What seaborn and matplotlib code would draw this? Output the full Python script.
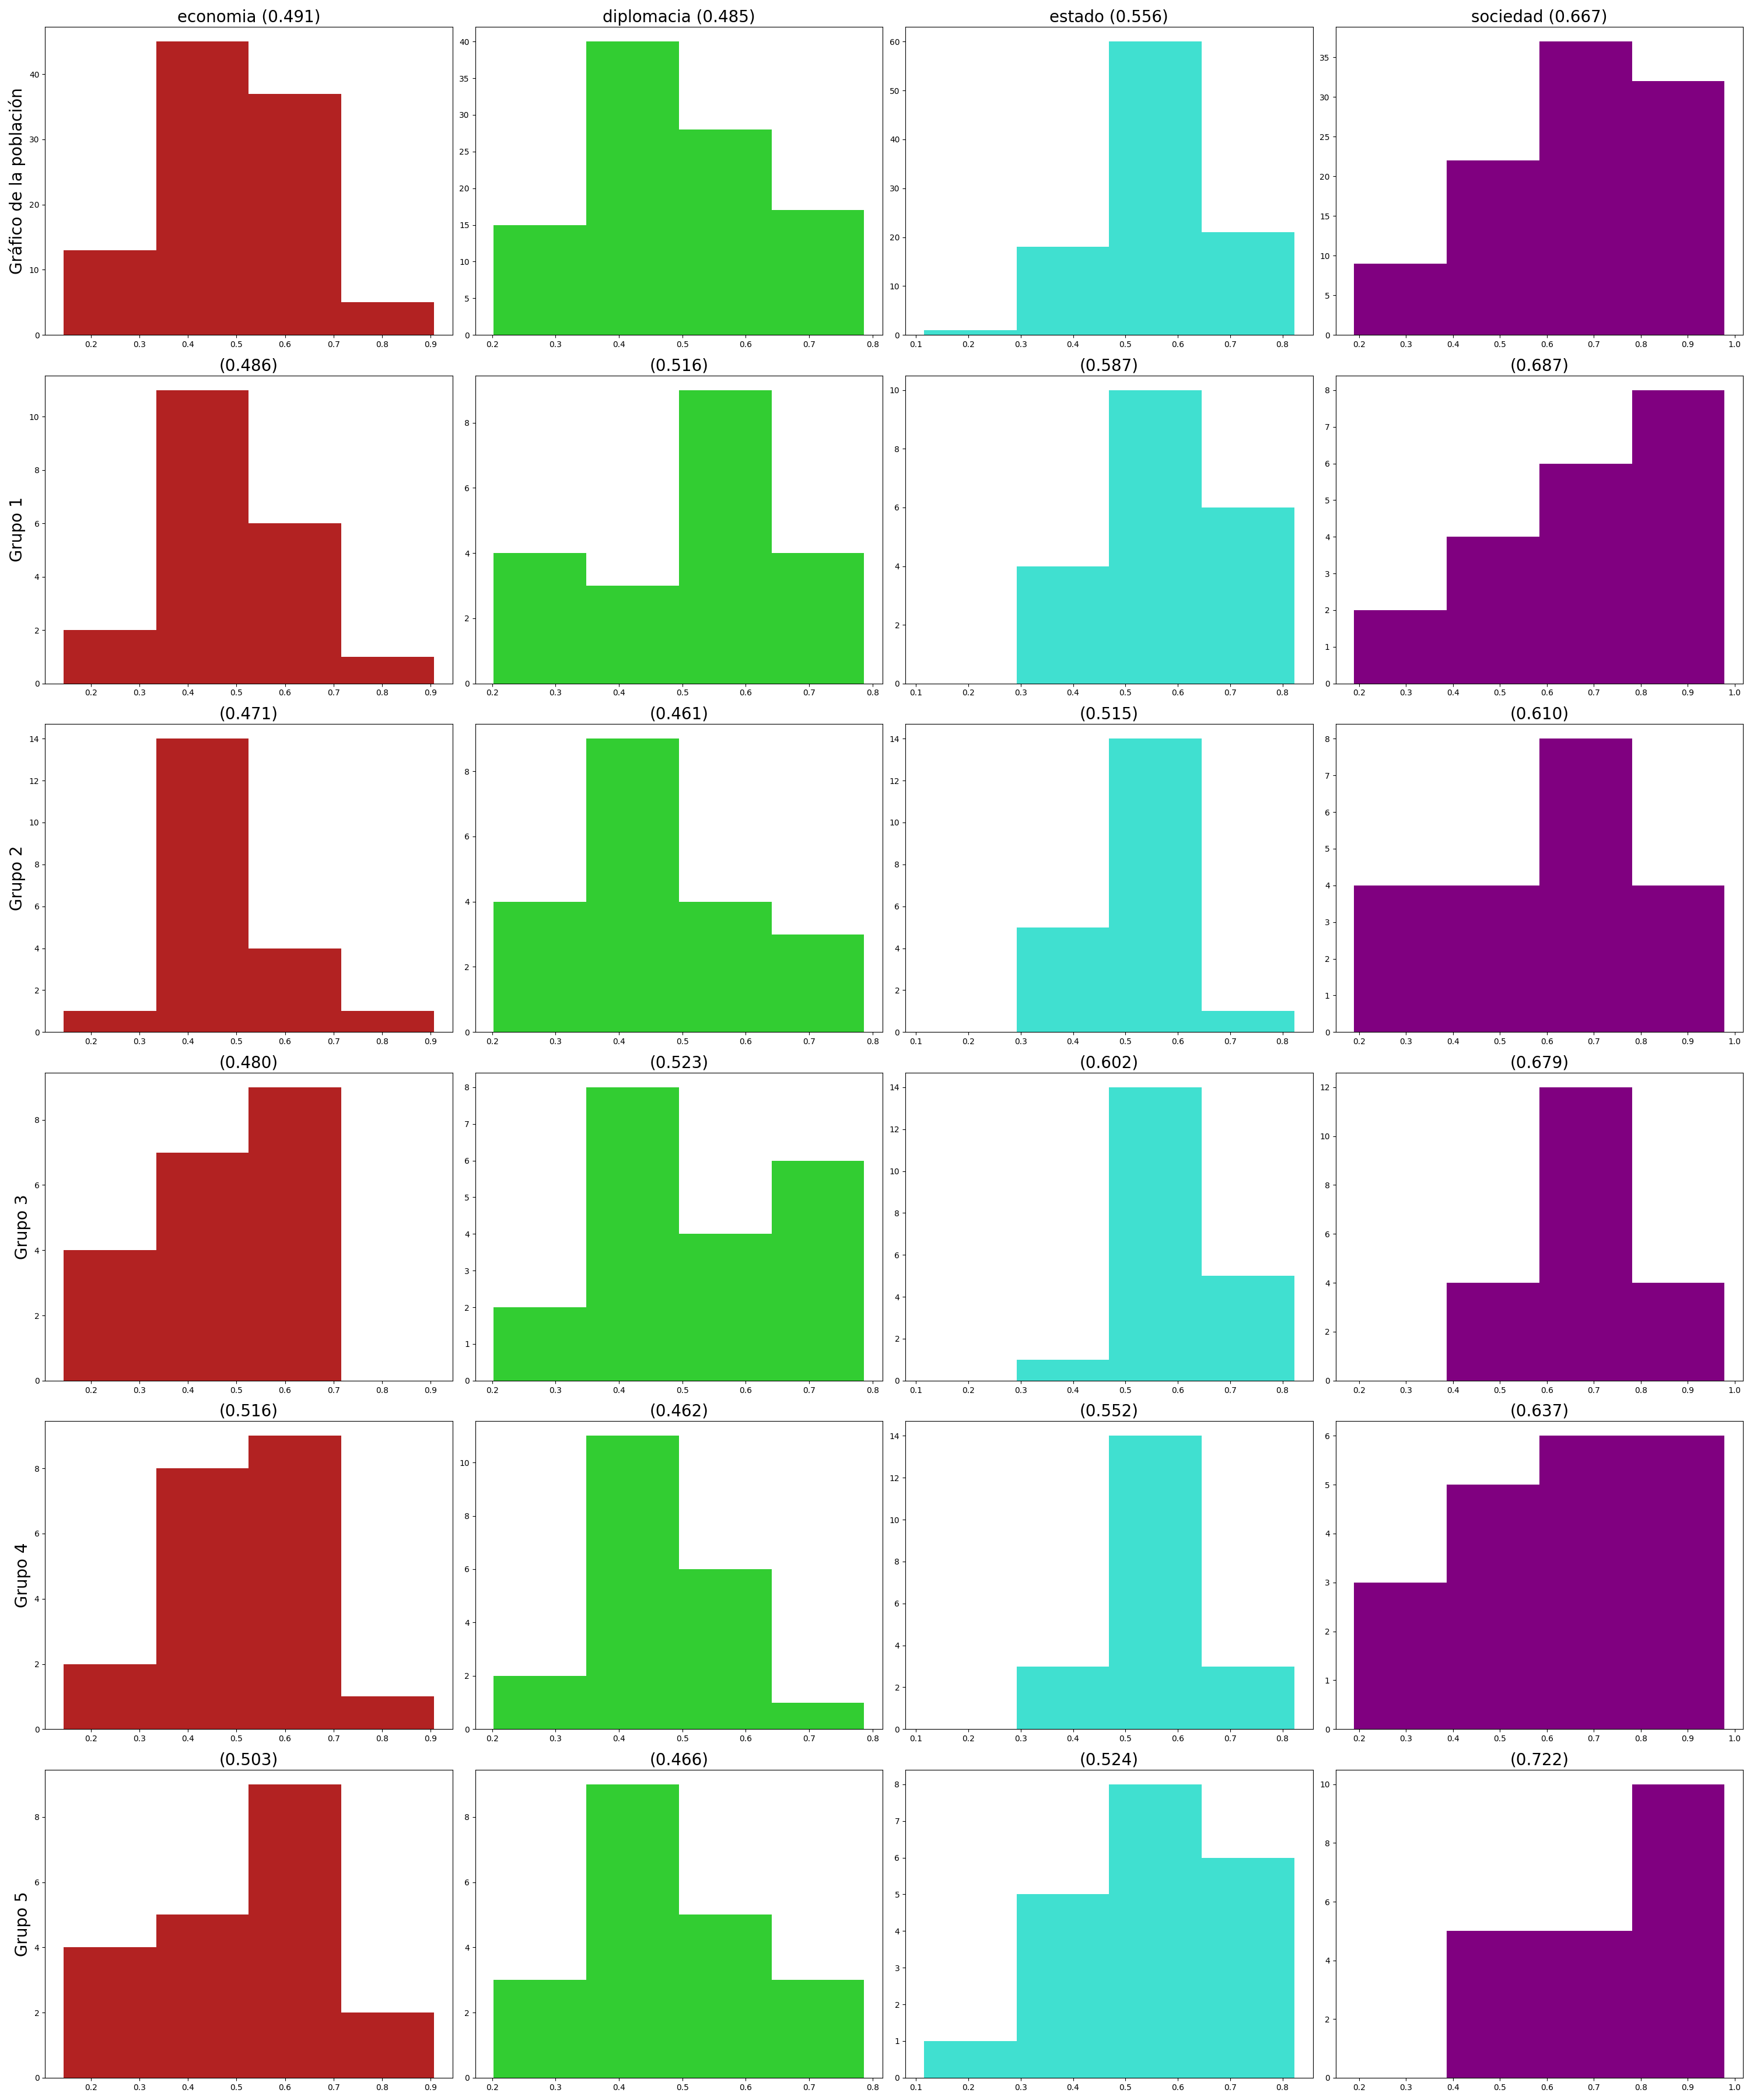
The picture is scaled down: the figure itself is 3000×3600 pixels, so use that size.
import numpy as np
import pandas as pd
import matplotlib
matplotlib.use("Agg")
import matplotlib.pyplot as plt
import seaborn as sns

dimensions = ["economia", "diplomacia", "estado", "sociedad"]
colors = ["firebrick", "limegreen", "turquoise", "purple"]
row_labels = ["Gráfico de la población", "Grupo 1", "Grupo 2", "Grupo 3", "Grupo 4", "Grupo 5"]

# bin edges per dimension (shared across rows)
edges_economia = [0.1436, 0.3344, 0.5252, 0.7160, 0.9068]
edges_diplomacia = [0.2023, 0.3484, 0.4945, 0.6407, 0.7868]
edges_estado = [0.1150, 0.2920, 0.4690, 0.6458, 0.8226]
edges_sociedad = [0.1895, 0.3867, 0.5839, 0.7812, 0.9784]

# counts per row (population, grupo 1..5)
counts_economia = [[13, 45, 37, 5], [2, 11, 6, 1], [1, 14, 4, 1], [4, 7, 9, 0], [2, 8, 9, 1], [4, 5, 9, 2]]
counts_diplomacia = [[15, 40, 28, 17], [4, 3, 9, 4], [4, 9, 4, 3], [2, 8, 4, 6], [2, 11, 6, 1], [3, 9, 5, 3]]
counts_estado = [[1, 18, 60, 21], [0, 4, 10, 6], [0, 5, 14, 1], [0, 1, 14, 5], [0, 3, 14, 3], [1, 5, 8, 6]]
counts_sociedad = [[9, 22, 37, 32], [2, 4, 6, 8], [4, 4, 8, 4], [0, 4, 12, 4], [3, 5, 6, 6], [0, 5, 5, 10]]

# mean values shown in titles
means_economia = ["0.491", "0.486", "0.471", "0.480", "0.516", "0.503"]
means_diplomacia = ["0.485", "0.516", "0.461", "0.523", "0.462", "0.466"]
means_estado = ["0.556", "0.587", "0.515", "0.602", "0.552", "0.524"]
means_sociedad = ["0.667", "0.687", "0.610", "0.679", "0.637", "0.722"]

edges_all = [edges_economia, edges_diplomacia, edges_estado, edges_sociedad]
counts_all = [counts_economia, counts_diplomacia, counts_estado, counts_sociedad]
means_all = [means_economia, means_diplomacia, means_estado, means_sociedad]

fig, axes = plt.subplots(6, 4, figsize=(30, 36), dpi=100)
fig.subplots_adjust(left=0.0257, right=0.996, top=0.9872, bottom=0.0106,
                    wspace=0.0558, hspace=0.1314)

for c, dim in enumerate(dimensions):
    edges = list(edges_all[c])
    centers = [(edges[i] + edges[i + 1]) / 2 for i in range(len(edges) - 1)]
    for r in range(6):
        ax = axes[r, c]
        df = pd.DataFrame({"x": centers, "w": counts_all[c][r]})
        sns.histplot(data=df, x="x", weights="w", bins=edges, color=colors[c],
                     alpha=1, linewidth=0, ax=ax)
        if r == 0:
            ax.set_title(f"{dim} ({means_all[c][r]})", fontsize=20)
        else:
            ax.set_title(f"({means_all[c][r]})", fontsize=20)
        ax.set_xlabel("")
        if c == 0:
            ax.set_ylabel(row_labels[r], fontsize=20)
        else:
            ax.set_ylabel("")

fig.savefig("out.png", dpi=100)
